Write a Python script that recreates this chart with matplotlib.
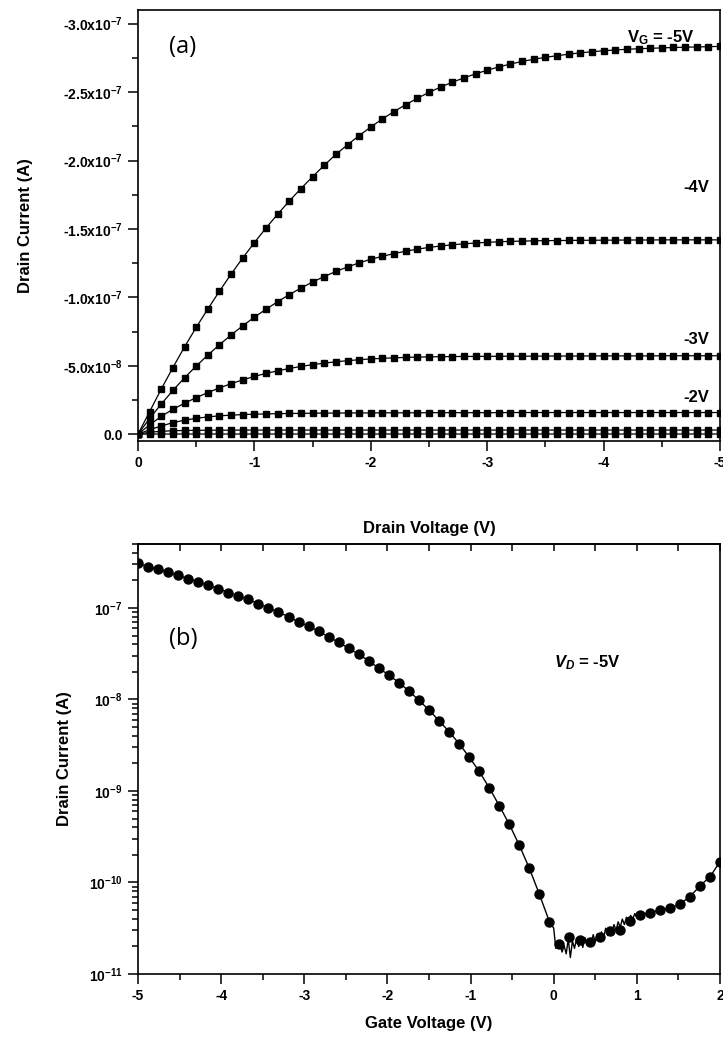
import numpy as np
import matplotlib.pyplot as plt
from matplotlib.ticker import MultipleLocator, FuncFormatter, LogLocator, NullFormatter

plt.rcParams['font.family'] = ['Liberation Sans', 'DejaVu Sans']
plt.rcParams['font.weight'] = 'bold'
plt.rcParams['mathtext.fontset'] = 'custom'
plt.rcParams['mathtext.rm'] = 'Liberation Sans:bold'
plt.rcParams['mathtext.bf'] = 'Liberation Sans:bold'
plt.rcParams['mathtext.it'] = 'Liberation Sans:italic:bold'
plt.rcParams['mathtext.default'] = 'rm'

# ---- output characteristics: |Id| in units of 1e-8 A, Vd = 0 ... -5 V (0.1 V steps)
vd = -np.round(np.arange(0, 5.01, 0.1), 2)

id_vg5 = [0, 1.65, 3.30, 4.87, 6.38, 7.80, 9.15, 10.45, 11.70, 12.88,
          14.00, 15.07, 16.08, 17.04, 17.95, 18.82, 19.65, 20.45, 21.15, 21.82,
          22.45, 23.04, 23.58, 24.08, 24.55, 24.98, 25.37, 25.72, 26.04, 26.33,
          26.60, 26.84, 27.05, 27.24, 27.40, 27.54, 27.66, 27.77, 27.87, 27.95,
          28.02, 28.08, 28.13, 28.17, 28.20, 28.23, 28.26, 28.28, 28.30, 28.32, 28.34]
id_vg4 = [0, 1.15, 2.20, 3.20, 4.12, 4.98, 5.78, 6.54, 7.25, 7.92,
          8.55, 9.13, 9.68, 10.20, 10.68, 11.12, 11.52, 11.89, 12.22, 12.52,
          12.78, 13.00, 13.20, 13.37, 13.52, 13.65, 13.75, 13.84, 13.91, 13.97,
          14.02, 14.06, 14.09, 14.11, 14.13, 14.14, 14.15, 14.16, 14.17, 14.17,
          14.18, 14.18, 14.19, 14.19, 14.19, 14.20, 14.20, 14.20, 14.20, 14.20, 14.20]
id_vg3 = [0, 0.68, 1.30, 1.82, 2.26, 2.67, 3.04, 3.38, 3.69, 3.97,
          4.22, 4.44, 4.63, 4.80, 4.95, 5.08, 5.19, 5.29, 5.37, 5.44,
          5.50, 5.54, 5.58, 5.61, 5.63, 5.65, 5.66, 5.67, 5.68, 5.68,
          5.69, 5.69, 5.70, 5.70, 5.70, 5.71, 5.71, 5.71, 5.71, 5.72,
          5.72, 5.72, 5.72, 5.72, 5.72, 5.73, 5.73, 5.73, 5.73, 5.73, 5.73]
id_vg2 = [0, 0.32, 0.60, 0.84, 1.02, 1.16, 1.26, 1.34, 1.39, 1.43,
          1.46, 1.48, 1.50, 1.51, 1.52, 1.53, 1.54, 1.54, 1.55, 1.55,
          1.55, 1.56, 1.56, 1.56, 1.56, 1.57, 1.57, 1.57, 1.57, 1.57,
          1.57, 1.57, 1.58, 1.58, 1.58, 1.58, 1.58, 1.58, 1.58, 1.58,
          1.58, 1.58, 1.58, 1.58, 1.58, 1.58, 1.58, 1.58, 1.58, 1.58, 1.58]
id_vg1 = [0, 0.14, 0.21, 0.25, 0.27, 0.28, 0.29, 0.29, 0.29, 0.30,
          0.30, 0.30, 0.30, 0.30, 0.30, 0.30, 0.30, 0.30, 0.30, 0.30,
          0.30, 0.30, 0.30, 0.30, 0.30, 0.30, 0.30, 0.30, 0.30, 0.30,
          0.30, 0.30, 0.30, 0.30, 0.30, 0.30, 0.30, 0.30, 0.30, 0.30,
          0.30, 0.30, 0.30, 0.30, 0.30, 0.30, 0.30, 0.30, 0.30, 0.30, 0.30]
id_vg0 = [0, 0.01, 0.01, 0.01, 0.01, 0.01, 0.01, 0.01, 0.01, 0.01,
          0.01, 0.01, 0.01, 0.01, 0.01, 0.01, 0.01, 0.01, 0.01, 0.01,
          0.01, 0.01, 0.01, 0.01, 0.01, 0.01, 0.01, 0.01, 0.01, 0.01,
          0.01, 0.01, 0.01, 0.01, 0.01, 0.01, 0.01, 0.01, 0.01, 0.01,
          0.01, 0.01, 0.01, 0.01, 0.01, 0.01, 0.01, 0.01, 0.01, 0.01, 0.01]
output_curves = [id_vg5, id_vg4, id_vg3, id_vg2, id_vg1, id_vg0]

# ---- transfer characteristic at Vd = -5 V, log10(|Id|)
vg_pts = np.linspace(-5, 2, 59)
log_id_pts = [-6.511, -6.549, -6.577, -6.607, -6.643, -6.680, -6.713, -6.752, -6.789, -6.833,
              -6.869, -6.905, -6.956, -6.997, -7.047, -7.095, -7.153, -7.197, -7.255, -7.317,
              -7.375, -7.441, -7.506, -7.579, -7.659, -7.732, -7.816, -7.907, -8.010, -8.115,
              -8.232, -8.352, -8.483, -8.628, -8.785, -8.964, -9.160, -9.364, -9.593, -9.845,
              -10.129, -10.428, -10.672, -10.592, -10.628, -10.647, -10.599, -10.530, -10.519, -10.417,
              -10.355, -10.337, -10.301, -10.282, -10.235, -10.155, -10.038, -9.937, -9.773]

# raw sweep around the off-state (noise floor), 0 ... 1.1 V
vg_fine = np.round(np.arange(0, 1.1001, 0.025), 3)
log_id_fine = [-10.50, -10.72, -10.70, -10.66, -10.76, -10.69, -10.78, -10.62, -10.82, -10.64,
               -10.72, -10.61, -10.70, -10.62, -10.71, -10.60, -10.68, -10.62, -10.66, -10.57,
               -10.65, -10.56, -10.62, -10.54, -10.60, -10.50, -10.58, -10.49, -10.55, -10.46,
               -10.52, -10.43, -10.49, -10.40, -10.46, -10.38, -10.43, -10.36, -10.40, -10.34,
               -10.38, -10.33, -10.36, -10.33, -10.34]


def sci_label(v, pos):
    if abs(v) < 1e-13:
        return '0.0'
    exp = int(np.floor(np.log10(abs(v)) + 1e-9))
    return r'%.1fx10$^{%d}$' % (v / 10 ** exp, exp)


def pow_label(v, pos):
    return r'10$^{%d}$' % int(round(np.log10(v)))


fig = plt.figure(figsize=(7.23, 10.43), dpi=100)
ax1 = fig.add_axes([138 / 723, 1 - 441 / 1043, 582 / 723, 431 / 1043])
ax2 = fig.add_axes([138 / 723, 1 - 974 / 1043, 582 / 723, 430 / 1043])

# (a) output curves
for cur in output_curves:
    ax1.plot(vd, -np.array(cur) * 1e-8, color='black', lw=0.9,
             marker='s', ms=4, mfc='black', mec='black')
ax1.set_xlim(0, -5)
ax1.set_ylim(0.5e-8, -3.1e-7)
ax1.xaxis.set_major_locator(MultipleLocator(1))
ax1.xaxis.set_minor_locator(MultipleLocator(0.5))
ax1.yaxis.set_major_locator(MultipleLocator(5e-8))
ax1.yaxis.set_minor_locator(MultipleLocator(2.5e-8))
ax1.yaxis.set_major_formatter(FuncFormatter(sci_label))
ax1.xaxis.set_major_formatter(FuncFormatter(lambda v, p: '%d' % round(v)))
ax1.set_xlabel('Drain Voltage (V)', fontsize=12, fontweight='bold')
ax1.set_ylabel('Drain Current (A)', fontsize=12, fontweight='bold')
ax1.xaxis.set_label_coords(0.5, -0.185)
ax1.yaxis.set_label_coords(-0.18, 0.5)
ax1.text(0.077, 0.914, '(a)', transform=ax1.transAxes, fontsize=17,
         fontweight='normal', family='Open Sans', ha='center', va='center')
ax1.text(-4.2, -2.9e-7, 'V$_{\\rm G}$ = -5V', fontsize=12, ha='left', va='center')
ax1.text(-4.8, -1.80e-7, '-4V', fontsize=12, ha='center', va='center')
ax1.text(-4.8, -6.9e-8, '-3V', fontsize=12, ha='center', va='center')
ax1.text(-4.8, -2.7e-8, '-2V', fontsize=12, ha='center', va='center')

# (b) transfer curve
log_pts = np.array(log_id_pts)
line_vg = np.concatenate([vg_pts[vg_pts < 0], vg_fine, vg_pts[vg_pts > 1.1]])
line_log = np.concatenate([log_pts[vg_pts < 0], log_id_fine, log_pts[vg_pts > 1.1]])
ax2.plot(line_vg, 10 ** line_log, color='black', lw=1.0)
ax2.plot(vg_pts, 10 ** log_pts, ls='none', marker='o', ms=6.5,
         mfc='black', mec='black')
ax2.set_yscale('log')
ax2.set_xlim(-5, 2)
ax2.set_ylim(1e-11, 5e-7)
ax2.xaxis.set_major_locator(MultipleLocator(1))
ax2.xaxis.set_minor_locator(MultipleLocator(0.5))
ax2.yaxis.set_major_locator(LogLocator(base=10, numticks=10))
ax2.yaxis.set_minor_locator(LogLocator(base=10, subs=np.arange(2, 10), numticks=20))
ax2.yaxis.set_major_formatter(FuncFormatter(pow_label))
ax2.yaxis.set_minor_formatter(NullFormatter())
ax2.xaxis.set_major_formatter(FuncFormatter(lambda v, p: '%d' % round(v)))
ax2.set_xlabel('Gate Voltage (V)', fontsize=12, fontweight='bold')
ax2.set_ylabel('Drain Current (A)', fontsize=12, fontweight='bold')
ax2.xaxis.set_label_coords(0.5, -0.098)
ax2.yaxis.set_label_coords(-0.113, 0.5)
ax2.text(0.077, 0.78, '(b)', transform=ax2.transAxes, fontsize=17,
         fontweight='normal', family='Open Sans', ha='center', va='center')
ax2.text(0.0, 2.5e-8, '$\\it{V}_{\\it{D}}$ = -5V', fontsize=12, ha='left', va='center')

for ax in (ax1, ax2):
    for sp in ax.spines.values():
        sp.set_linewidth(1.2)
    ax.tick_params(which='major', direction='out', length=7, width=1.1,
                   labelsize=10, pad=4)
    ax.tick_params(which='minor', direction='out', length=4, width=1.1)

# inward ticks along the top edge of the transfer plot
ax2_top = ax2.secondary_xaxis('top')
ax2_top.xaxis.set_major_locator(MultipleLocator(1))
ax2_top.xaxis.set_minor_locator(MultipleLocator(0.5))
ax2_top.tick_params(which='both', direction='in', length=5, width=1.1, labeltop=False)
ax2_top.spines['top'].set_linewidth(1.2)

fig.savefig('out.png', dpi=100)
